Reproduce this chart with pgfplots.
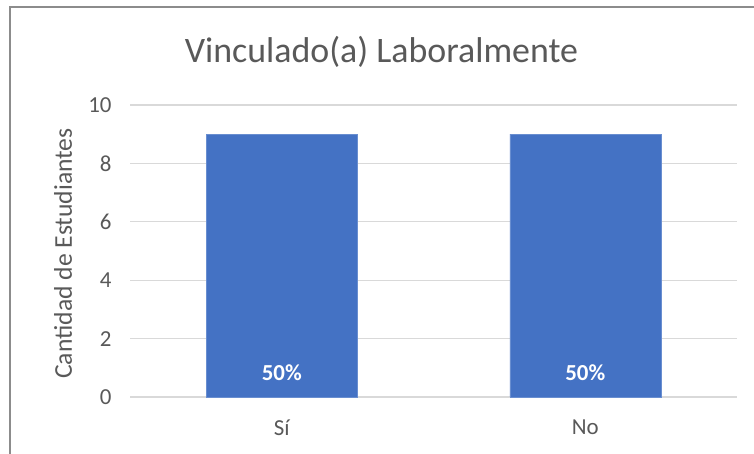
\documentclass[border=0pt]{standalone}
\usepackage{pgfplots}
\pgfplotsset{compat=1.18}
\usepackage{fontspec}
\setmainfont{Carlito}
\definecolor{barblue}{HTML}{4472C4}
\definecolor{txt}{HTML}{595959}
\definecolor{gridc}{HTML}{D9D9D9}
\definecolor{framec}{HTML}{8C8C8C}
\begin{document}
\begin{tikzpicture}[x=1bp,y=1bp]
\useasboundingbox (0,0) rectangle (754,454);
\draw[framec,line width=1.6bp] (10,0) -- (10,447) -- (754,447);
\node[txt,font=\fontsize{36}{40}\selectfont] at (381.5,402) {Vinculado(a) Laboralmente};
\node[txt,font=\fontsize{25.7}{28}\selectfont,rotate=90] at (63,200.5) {Cantidad de Estudiantes};
\begin{axis}[
  at={(130bp,57bp)}, anchor=south west,
  scale only axis, width=607bp, height=292bp,
  ymin=0, ymax=10, ytick={0,2,4,6,8,10},
  xmin=-0.5, xmax=1.5, xtick={0,1}, xticklabels={Sí,No},
  axis line style={draw=none},
  ymajorgrids, xmajorgrids=false, grid style={draw=gridc, line width=1.3bp},
  major tick length=0pt, tick style={draw=none},
  tick label style={text=txt,font=\fontsize{23}{26}\selectfont},
  /pgf/number format/assume math mode=true,
  yticklabel style={xshift=-15bp},
  xticklabel style={yshift=-19bp},
  ybar, bar width=151bp, bar shift=0pt,
  clip=false,
]
\addplot[fill=barblue, draw=barblue!80!white] coordinates {(0,9) (1,9)};
\node[white,font=\bfseries\fontsize{23}{26}\selectfont] at (axis cs:0,0.82) {50\%};
\node[white,font=\bfseries\fontsize{23}{26}\selectfont] at (axis cs:1,0.82) {50\%};
\end{axis}
\end{tikzpicture}
\end{document}
